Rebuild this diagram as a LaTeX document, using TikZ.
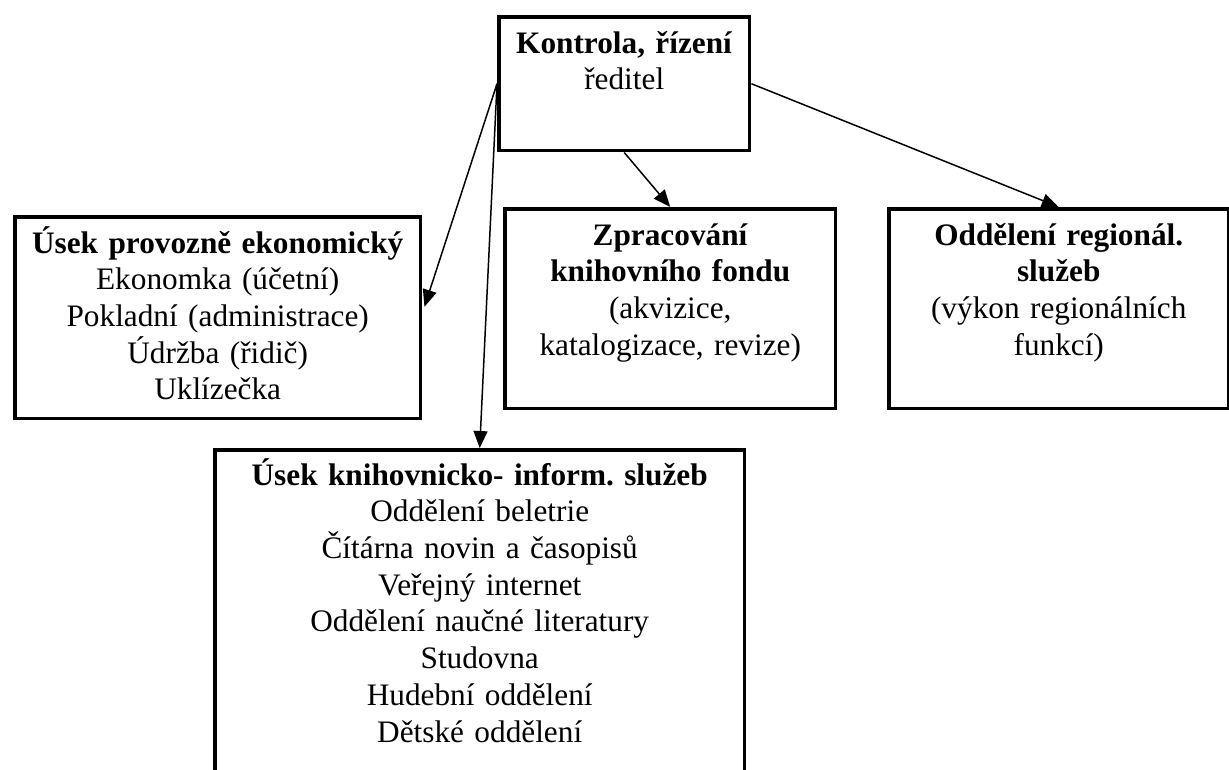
\documentclass[tikz,border=0pt]{standalone}
\usepackage{fontspec}
\setmainfont{Liberation Serif}
\frenchspacing
\usetikzlibrary{arrows.meta,calc}

\begin{document}
\begin{tikzpicture}[x=0.02cm,y=-0.02cm,
      box/.style={draw,line width=2pt,anchor=north west,inner sep=0pt},
      boxtext/.style={anchor=base,align=center,inner sep=0pt,font=\fontsize{17.8pt}{20.9pt}\selectfont},
      link/.style={-{Triangle[length=.34cm,width=.28cm]},line width=.85pt}
      ]
      \clip (0,0) rectangle (1229,769);

      \node[box,minimum width=5.02cm,minimum height=2.68cm] (ctrl) at (497,15) {};
      \node[boxtext,text width=5cm] (ctrl-t) at ($(ctrl.north)+(0,38)$)
        {\textbf{Kontrola, řízení}\\ředitel};

      \node[box,minimum width=8.12cm,minimum height=4.04cm] (econ) at (13,215) {};
      \node[boxtext,text width=8cm] (econ-t) at ($(econ.north)+(0,38)$)
        {\textbf{Úsek provozně ekonomický}\\Ekonomka (účetní)\\Pokladní (administrace)\\Údržba (řidič)\\Uklízečka};

      \node[box,minimum width=6.62cm,minimum height=4cm] (fond) at (503,207) {};
      \node[boxtext,text width=6.5cm] (fond-t) at ($(fond.north)+(0,38)$)
        {\textbf{Zpracování}\\\textbf{knihovního fondu}\\(akvizice,\\katalogizace, revize)};

      \node[box,minimum width=6.8cm,minimum height=4cm] (region) at (887,207) {};
      \node[boxtext,text width=6.7cm] (region-t) at ($(region.north)+(0,38)$)
        {\textbf{Oddělení regionál.}\\\textbf{služeb}\\(výkon regionálních\\funkcí)};

      % spodni box pokracuje pod okraj
      \node[box,minimum width=10.6cm,minimum height=7.2cm] (lib) at (213,448) {};
      \node[boxtext,text width=10.4cm] (lib-t) at ($(lib.north)+(0,37)$)
        {\textbf{Úsek knihovnicko- inform. služeb}\\Oddělení beletrie\\Čítárna novin a časopisů\\Veřejný internet\\Oddělení naučné literatury\\Studovna\\Hudební oddělení\\Dětské oddělení};

      \draw[link] (ctrl.west) -- ($(econ.east)+(2,-11)$);
      \draw[link] (ctrl.west) -- (lib.north);
      \draw[link] (ctrl.south) -- (fond.north);
      \draw[link] (ctrl.east) -- (region.north);
    \end{tikzpicture}
\end{document}
